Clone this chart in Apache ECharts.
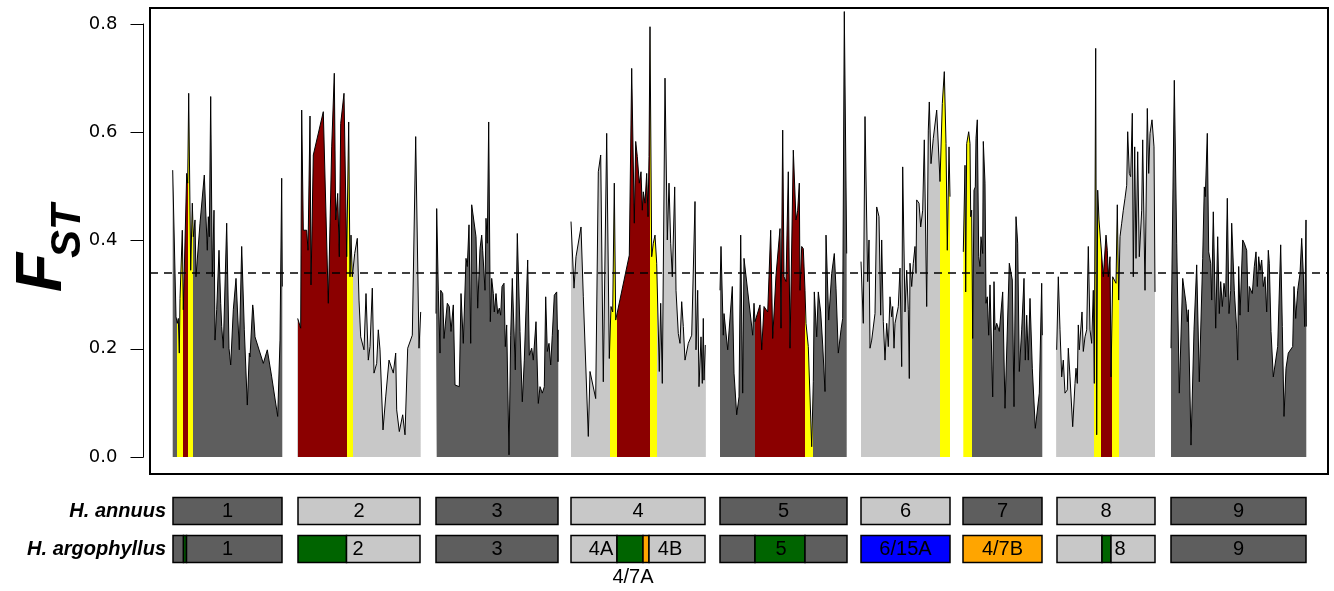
<!DOCTYPE html>
<html><head><meta charset="utf-8">
<script src="https://cdn.jsdelivr.net/npm/echarts@6/dist/echarts.min.js"></script>
<style>html,body{margin:0;padding:0;background:#fff}#c{width:1334px;height:591px}</style>
</head><body><div id="c"></div>
<script>
// ---- data: [position, FST] per chromosome (position in plot units) ----
const chr1 = [[22.7,0.530],[26.0,0.259],[27.3,0.247],[28.3,0.256],[29.3,0.192],[30.0,0.293],[32.3,0.419],[33.3,0.272],[34.7,0.275],[36.7,0.524],[37.7,0.506],[38.7,0.672],[40.0,0.672],[40.7,0.345],[42.3,0.469],[43.3,0.407],[45.0,0.438],[46.0,0.333],[50.0,0.432],[54.3,0.521],[57.3,0.382],[58.3,0.444],[59.3,0.407],[60.7,0.666],[62.3,0.333],[64.0,0.456],[65.0,0.216],[66.7,0.272],[69.0,0.382],[70.7,0.284],[71.7,0.241],[73.3,0.201],[76.7,0.432],[79.0,0.201],[80.7,0.170],[83.3,0.272],[86.0,0.330],[89.3,0.198],[91.7,0.389],[94.3,0.235],[97.3,0.096],[99.3,0.192],[100.0,0.185],[102.7,0.281],[103.3,0.272],[105.0,0.222],[113.3,0.173],[117.3,0.198],[121.7,0.148],[127.7,0.075],[130.0,0.216],[131.7,0.515],[132.3,0.315]];
const chr2 = [[147.7,0.256],[150.7,0.238],[151.7,0.641],[153.3,0.419],[156.7,0.419],[158.0,0.382],[160.0,0.630],[161.0,0.318],[163.3,0.558],[173.3,0.638],[178.3,0.284],[181.7,0.573],[184.3,0.709],[185.7,0.438],[187.7,0.487],[189.3,0.370],[190.7,0.616],[194.0,0.672],[196.7,0.370],[198.7,0.619],[200.0,0.333],[201.0,0.410],[202.3,0.333],[204.7,0.376],[207.3,0.404],[209.0,0.290],[210.7,0.222],[212.3,0.219],[214.0,0.198],[216.0,0.302],[218.3,0.179],[220.0,0.204],[222.3,0.312],[224.0,0.155],[226.7,0.173],[228.3,0.235],[230.0,0.198],[233.0,0.050],[235.7,0.111],[239.0,0.179],[243.3,0.155],[245.7,0.192],[246.7,0.087],[249.3,0.047],[252.7,0.078],[255.0,0.041],[257.7,0.201],[262.3,0.225],[265.7,0.592],[269.0,0.201],[270.7,0.268]];
const chr3 = [[286.0,0.265],[286.7,0.459],[288.3,0.308],[290.0,0.192],[290.7,0.308],[292.7,0.302],[294.0,0.219],[297.3,0.284],[299.3,0.278],[301.0,0.232],[303.3,0.281],[305.0,0.133],[309.3,0.130],[311.0,0.302],[313.3,0.210],[316.0,0.367],[317.3,0.352],[319.0,0.429],[320.7,0.210],[321.7,0.466],[326.0,0.407],[327.7,0.275],[329.0,0.272],[330.0,0.385],[331.7,0.410],[332.7,0.382],[335.0,0.308],[336.0,0.441],[337.3,0.395],[338.7,0.619],[340.3,0.250],[341.7,0.330],[343.3,0.302],[344.3,0.268],[346.0,0.302],[347.7,0.265],[349.3,0.275],[350.7,0.262],[352.0,0.315],[354.0,0.321],[355.3,0.204],[356.7,0.244],[359.0,0.004],[360.7,0.225],[362.3,0.330],[364.0,0.327],[365.3,0.161],[367.3,0.413],[370.0,0.232],[372.3,0.102],[374.3,0.179],[377.7,0.364],[379.3,0.188],[381.7,0.201],[383.3,0.179],[386.0,0.250],[388.3,0.099],[390.0,0.130],[392.3,0.118],[394.3,0.130],[395.7,0.296],[397.3,0.195],[399.0,0.210],[400.7,0.170],[402.3,0.225],[404.3,0.299],[406.7,0.305],[408.0,0.176],[408.3,0.235]];
const chr4 = [[421.0,0.435],[424.0,0.312],[426.0,0.370],[431.0,0.425],[433.3,0.296],[438.3,0.038],[440.0,0.158],[445.7,0.108],[448.3,0.527],[450.7,0.558],[453.3,0.139],[456.7,0.598],[459.3,0.182],[461.0,0.278],[462.7,0.268],[464.3,0.506],[465.7,0.253],[466.7,0.256],[479.3,0.373],[481.7,0.718],[484.3,0.432],[485.7,0.583],[487.3,0.555],[488.3,0.552],[489.3,0.506],[491.0,0.527],[492.3,0.456],[493.3,0.490],[495.0,0.469],[496.7,0.524],[498.0,0.444],[499.0,0.555],[500.0,0.795],[501.7,0.370],[503.3,0.395],[505.0,0.410],[506.7,0.358],[509.3,0.158],[510.7,0.284],[512.3,0.136],[515.0,0.700],[517.3,0.401],[519.0,0.506],[520.7,0.395],[522.3,0.333],[524.7,0.499],[526.0,0.308],[528.3,0.228],[530.0,0.210],[531.7,0.287],[533.3,0.241],[535.0,0.179],[538.3,0.210],[541.7,0.225],[545.0,0.472],[546.0,0.198],[547.7,0.308],[549.0,0.130],[551.0,0.222],[552.3,0.136],[553.3,0.256],[554.0,0.142],[555.3,0.207]];
const chr5 = [[570.0,0.308],[571.0,0.389],[573.3,0.225],[574.0,0.265],[577.7,0.198],[582.3,0.315],[584.0,0.155],[586.7,0.078],[589.0,0.111],[590.7,0.410],[592.7,0.118],[594.0,0.367],[602.7,0.225],[604.0,0.284],[605.0,0.250],[610.0,0.281],[611.7,0.198],[614.0,0.278],[615.7,0.275],[617.7,0.268],[620.7,0.419],[622.7,0.219],[626.0,0.336],[630.0,0.422],[631.0,0.238],[632.7,0.604],[634.0,0.333],[636.0,0.324],[638.3,0.527],[640.0,0.201],[643.3,0.567],[646.0,0.438],[647.7,0.456],[649.3,0.506],[650.0,0.308],[651.7,0.389],[653.3,0.385],[655.0,0.308],[656.0,0.247],[658.3,0.204],[661.7,0.019],[663.3,0.139],[664.3,0.305],[666.7,0.222],[668.3,0.305],[670.7,0.268],[672.7,0.207],[675.0,0.121],[676.0,0.410],[678.7,0.253],[681.7,0.339],[684.3,0.376],[686.0,0.312],[688.3,0.192],[691.0,0.235],[692.7,0.256],[694.3,0.823],[696.7,0.376]];
const chr6 = [[711.0,0.361],[713.3,0.247],[715.0,0.629],[717.7,0.324],[719.0,0.401],[720.0,0.201],[721.7,0.216],[723.3,0.216],[725.0,0.265],[726.7,0.462],[729.0,0.444],[730.7,0.262],[731.7,0.401],[733.3,0.250],[735.0,0.179],[736.7,0.247],[738.3,0.204],[740.0,0.296],[741.7,0.259],[742.7,0.278],[744.0,0.201],[745.0,0.247],[746.7,0.247],[748.3,0.278],[750.0,0.349],[751.7,0.167],[752.7,0.536],[755.0,0.268],[756.7,0.345],[758.3,0.272],[759.3,0.145],[760.0,0.358],[761.7,0.315],[763.3,0.358],[765.0,0.389],[766.0,0.339],[766.7,0.475],[769.0,0.469],[770.7,0.425],[772.7,0.456],[774.3,0.586],[776.7,0.278],[778.3,0.604],[779.3,0.656],[781.0,0.542],[783.3,0.589],[786.7,0.641],[788.3,0.644],[790.0,0.509],[792.3,0.653],[794.3,0.712],[796.0,0.579],[797.3,0.382],[799.0,0.573],[800.0,0.481]];
const chr7 = [[813.3,0.379],[815.0,0.539],[815.7,0.305],[816.7,0.579],[818.7,0.601],[820.0,0.579],[820.7,0.444],[821.7,0.456],[822.7,0.219],[824.0,0.493],[825.3,0.499],[826.0,0.589],[827.3,0.623],[828.7,0.370],[830.0,0.352],[831.0,0.407],[832.7,0.376],[833.3,0.583],[835.0,0.506],[836.0,0.284],[837.3,0.296],[838.7,0.225],[840.0,0.318],[842.7,0.111],[844.0,0.324],[845.0,0.235],[846.7,0.247],[849.3,0.232],[852.7,0.305],[855.0,0.090],[859.3,0.358],[862.3,0.327],[864.0,0.093],[866.0,0.444],[867.7,0.395],[869.3,0.158],[871.7,0.235],[874.0,0.330],[875.3,0.179],[876.7,0.262],[878.3,0.179],[880.0,0.293],[882.3,0.164],[885.3,0.053],[889.3,0.118],[891.7,0.321],[892.3,0.225]];
const chr8 = [[906.7,0.198],[908.3,0.333],[910.0,0.235],[911.7,0.148],[913.3,0.179],[915.0,0.118],[917.3,0.124],[918.3,0.201],[920.0,0.148],[922.7,0.056],[925.0,0.136],[926.0,0.164],[927.3,0.136],[928.3,0.244],[929.3,0.198],[932.0,0.268],[933.3,0.195],[935.0,0.222],[936.7,0.235],[938.3,0.389],[940.0,0.235],[941.7,0.210],[943.3,0.308],[944.3,0.136],[945.7,0.755],[946.7,0.041],[947.7,0.493],[949.0,0.438],[951.0,0.441],[953.3,0.333],[956.0,0.410],[957.3,0.382],[958.3,0.333],[960.0,0.370],[961.0,0.148],[962.7,0.333],[966.0,0.321],[967.3,0.466],[968.7,0.290],[970.0,0.407],[971.7,0.432],[973.3,0.456],[975.0,0.478],[976.7,0.502],[977.7,0.601],[979.3,0.524],[980.7,0.518],[982.3,0.635],[983.3,0.333],[984.7,0.573],[986.0,0.367],[987.7,0.564],[989.3,0.370],[991.7,0.456],[992.7,0.586],[995.0,0.308],[997.3,0.644],[998.7,0.524],[1000.0,0.598],[1002.0,0.623],[1004.0,0.573],[1005.0,0.305]];
const chr9 = [[1021.0,0.201],[1024.3,0.696],[1026.7,0.395],[1029.3,0.118],[1032.7,0.330],[1036.0,0.284],[1037.3,0.250],[1038.3,0.272],[1041.0,0.022],[1044.0,0.235],[1046.7,0.355],[1049.3,0.139],[1052.7,0.367],[1054.3,0.499],[1055.3,0.481],[1057.3,0.598],[1058.7,0.379],[1060.7,0.358],[1061.7,0.290],[1063.3,0.453],[1065.7,0.238],[1067.7,0.407],[1069.3,0.265],[1070.7,0.324],[1072.3,0.278],[1074.0,0.321],[1075.7,0.296],[1077.3,0.478],[1079.0,0.265],[1080.7,0.308],[1081.7,0.432],[1084.3,0.308],[1086.7,0.235],[1087.7,0.179],[1088.7,0.352],[1090.0,0.262],[1092.7,0.401],[1094.3,0.395],[1096.7,0.382],[1098.3,0.268],[1099.3,0.315],[1101.0,0.315],[1102.3,0.302],[1104.3,0.352],[1106.0,0.379],[1107.3,0.315],[1108.7,0.370],[1110.0,0.345],[1111.7,0.364],[1113.3,0.315],[1115.0,0.333],[1116.7,0.268],[1118.3,0.382],[1119.3,0.358],[1121.0,0.232],[1123.3,0.148],[1127.7,0.204],[1130.7,0.392],[1132.3,0.241],[1134.0,0.075],[1136.0,0.164],[1138.3,0.192],[1142.7,0.204],[1144.0,0.315],[1145.7,0.256],[1147.7,0.308],[1150.0,0.339],[1151.7,0.404],[1153.3,0.339],[1154.7,0.241],[1156.0,0.438],[1156.3,0.241]];
const chromosomes = [chr1, chr2, chr3, chr4, chr5, chr6, chr7, chr8, chr9];

// fill classes along the genome: [start, end, class]
const regions = [
  [22.7,26.7,'dg'],[26.7,33.3,'ye'],[33.3,38.3,'dr'],[38.3,43.3,'ye'],[43.3,132.3,'dg'],
  [147.7,196.7,'dr'],[196.7,202.7,'ye'],[202.7,270.7,'lg'],
  [286,408.3,'dg'],
  [421,460,'lg'],[460,466.7,'ye'],[466.7,500,'dr'],[500,507.3,'ye'],[507.3,555.3,'lg'],
  [570,605,'dg'],[605,655,'dr'],[655,662.7,'ye'],[662.7,696.7,'dg'],
  [711,790,'lg'],[790,800,'ye'],
  [813.3,821.7,'ye'],[821.7,892.3,'dg'],
  [906.7,944,'lg'],[944,951,'ye'],[951,961.7,'dr'],[961.7,968.7,'ye'],[968.7,1005,'lg'],
  [1021,1156.3,'dg']
];
const threshold = 0.336;
const yTicks = [0, 0.2, 0.4, 0.6, 0.8];

// chromosome bars: [start, end, class, label]
const annuusBlocks = [[23,132,'dg','1'],[148,270,'lg','2'],[286,408,'dg','3'],[421,555,'lg','4'],[570,697,'dg','5'],[711,800,'lg','6'],[813,892,'dg','7'],[907,1005,'lg','8'],[1021,1156,'dg','9']];
const argoSegments = [[23,33.5,'dg'],[33.5,36.5,'gr'],[36.5,132,'dg'],[148,196.5,'gr'],[196.5,270,'lg'],[286,408,'dg'],[421,467,'lg'],[467,493,'gr'],[493,499,'or'],[499,555,'lg'],[570,605,'dg'],[605,655,'gr'],[655,697,'dg'],[711,800,'bl'],[813,892,'or'],[907,952,'lg'],[952,961,'gr'],[961,1005,'lg'],[1021,1156,'dg']];
const argoLabels = [[77.5,0,'1'],[208,0,'2'],[347,0,'3'],[451,0,'4A'],[520,0,'4B'],[631,0,'5'],[755.5,0,'6/15A'],[852.5,0,'4/7B'],[970,0,'8'],[1088.5,0,'9'],[483,-0.74,'4/7A']];
const rowNames = ['H. argophyllus', 'H. annuus'];

const COLORS = {dg:'#5e5e5e', lg:'#c8c8c8', dr:'#8b0000', ye:'#ffff00', gr:'#006400', bl:'#0000ff', or:'#ffa500'};
const BOXFONT = '20px "Liberation Sans", Arial, sans-serif';

const rects = annuusBlocks.map(b => [b[0], b[1], 1, b[2]]).concat(argoSegments.map(s => [s[0], s[1], 0, s[2]]));
const labels = annuusBlocks.map(b => [(b[0] + b[1]) / 2, 1, b[3]]).concat(argoLabels);

const chart = echarts.init(document.getElementById('c'), null, {renderer: 'canvas'});
const series = chromosomes.map((d, i) => ({
  type: 'line', xAxisIndex: 0, yAxisIndex: 0, data: d, showSymbol: false, symbol: 'none',
  lineStyle: {color: '#000', width: 1}, areaStyle: {opacity: 1}, silent: true, z: 2,
  markLine: i === chromosomes.length - 1 ? {
    silent: true, symbol: 'none', label: {show: false},
    lineStyle: {type: [8, 6], color: '#000', width: 1.5},
    data: [{yAxis: threshold}]
  } : undefined
}));
series.push({
  type: 'custom', xAxisIndex: 2, yAxisIndex: 2, data: rects.map(r => [r[0], r[1], r[2]]), silent: true,
  renderItem: (params, api) => {
    const r = rects[params.dataIndex];
    const p0 = api.coord([api.value(0), api.value(2) + 0.355]);
    const p1 = api.coord([api.value(1), api.value(2) - 0.355]);
    return {type: 'rect', shape: {x: p0[0], y: p0[1], width: p1[0] - p0[0], height: p1[1] - p0[1]},
      style: {fill: COLORS[r[3]], stroke: '#000', lineWidth: 1.5}};
  }
});
series.push({
  type: 'custom', xAxisIndex: 2, yAxisIndex: 2, data: labels.map(l => [l[0], l[1]]), silent: true, z: 3,
  renderItem: (params, api) => {
    const p = api.coord([api.value(0), api.value(1)]);
    return {type: 'text', x: p[0], y: p[1],
      style: {text: labels[params.dataIndex][2], font: BOXFONT, fill: '#000', align: 'center', verticalAlign: 'middle'}};
  }
});

chart.setOption({
  animation: false,
  backgroundColor: '#fff',
  grid: [
    {left: 150, top: 8, width: 1178, height: 466, show: true, borderColor: '#000', borderWidth: 2, backgroundColor: 'transparent'},
    {left: 143.5, top: 24, width: 1, height: 433, show: false},
    {left: 150, top: 473, width: 1178, height: 114, show: false}
  ],
  xAxis: [
    {gridIndex: 0, type: 'value', min: 0, max: 1178, show: false},
    {gridIndex: 1, type: 'value', min: 0, max: 1, show: false},
    {gridIndex: 2, type: 'value', min: 0, max: 1178, show: false}
  ],
  yAxis: [
    {gridIndex: 0, type: 'value', min: -0.0314, max: 0.8296, show: false},
    {gridIndex: 1, type: 'value', min: 0, max: 0.8, interval: 0.2,
      axisLine: {show: true, lineStyle: {color: '#000', width: 1}},
      axisTick: {show: true, length: 13, lineStyle: {color: '#000', width: 1}},
      axisLabel: {margin: 26, color: '#000', fontSize: 18, fontFamily: '"DejaVu Sans"', formatter: v => v.toFixed(1)},
      splitLine: {show: false}},
    {gridIndex: 2, type: 'value', min: -1, max: 2, interval: 1,
      axisLine: {show: false}, axisTick: {show: false}, splitLine: {show: false},
      axisLabel: {margin: -16, color: '#000', fontSize: 20, fontWeight: 'bold', fontStyle: 'italic',
        fontFamily: '"Liberation Sans", Arial, sans-serif', formatter: v => rowNames[v] || ''}}
  ],
  visualMap: {
    type: 'piecewise', show: false, dimension: 0,
    seriesIndex: chromosomes.map((_, i) => i),
    pieces: regions.map(r => ({gte: r[0], lt: r[1], color: COLORS[r[2]]})),
    outOfRange: {color: '#5e5e5e'}
  },
  graphic: [
    {type: 'text', x: 43, y: 292, rotation: Math.PI / 2, silent: true,
      style: {text: 'F', font: 'italic bold 64px "Liberation Sans", Arial, sans-serif', fill: '#000', align: 'left', verticalAlign: 'middle'}},
    {type: 'text', x: 68, y: 258, rotation: Math.PI / 2, silent: true,
      style: {text: 'ST', font: 'italic bold 42px "Liberation Sans", Arial, sans-serif', fill: '#000', align: 'left', verticalAlign: 'middle'}}
  ],
  series: series
});
</script></body></html>
